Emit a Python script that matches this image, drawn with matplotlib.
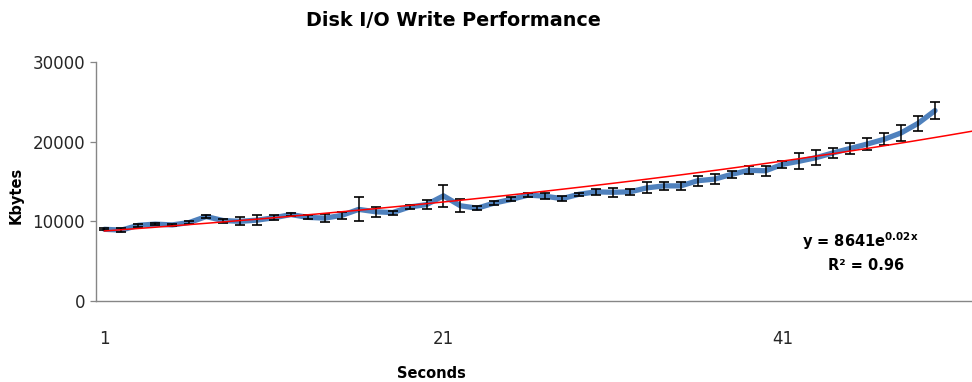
import numpy as np
import matplotlib
matplotlib.use("Agg")
import matplotlib.pyplot as plt

plt.rcParams['font.family'] = ['DejaVu Sans']

# ---- data ----
seconds = list(range(1, 51))
kbytes = [9000, 8900, 9500, 9650, 9550, 9850, 10600, 10100, 10000, 10150,
          10450, 10850, 10500, 10400, 10750, 11500, 11200, 11100, 11800, 12100,
          13200, 11950, 11650, 12300, 12750, 13300, 13150, 12850, 13400, 13700,
          13650, 13700, 14200, 14450, 14450, 15100, 15300, 15900, 16400, 16350,
          17150, 17550, 18000, 18600, 19150, 19700, 20300, 21100, 22300, 23900]
errors = [150, 250, 150, 150, 150, 150, 150, 250, 500, 650,
          300, 200, 250, 480, 460, 1500, 650, 250, 310, 580,
          1420, 840, 250, 310, 250, 250, 350, 300, 200, 400,
          560, 420, 690, 520, 520, 630, 630, 420, 520, 600,
          420, 1000, 900, 630, 700, 730, 730, 1040, 940, 1040]
trend_a = 8641
trend_k = 0.0173
yticks = [0, 10000, 20000, 30000]
xticks = [1, 21, 41]
title = "Disk I/O Write Performance"
xlabel = "Seconds"
ylabel = "Kbytes"

W, H = 972, 382
fig = plt.figure(figsize=(W / 100, H / 100), dpi=100)
ax = fig.add_axes([96 / W, (H - 301) / H, 881.4 / W, 239 / H])

ax.plot(seconds, kbytes, color='#4F81BD', lw=3.8, solid_joinstyle='round',
        solid_capstyle='round', zorder=2)
ax.errorbar(seconds, kbytes, yerr=errors, fmt='none', ecolor='black',
            elinewidth=1.1, capsize=3.6, capthick=1.2, zorder=3)
xt = np.linspace(1, 52.5, 200)
ax.plot(xt, trend_a * np.exp(trend_k * xt), color='#FF0000', lw=1.1, zorder=4)

ax.set_xlim(0.5, 52.5)
ax.set_ylim(0, 30000)
ax.set_yticks(yticks)
ax.set_yticklabels([str(v) for v in yticks])
ax.set_xticks(xticks)
ax.set_xticklabels([str(v) for v in xticks])

for s in ['top', 'right']:
    ax.spines[s].set_visible(False)
for s in ['left', 'bottom']:
    ax.spines[s].set_color('#868686')
    ax.spines[s].set_linewidth(1.0)

ax.tick_params(axis='y', direction='out', length=4.3, width=0.9, color='#868686',
               labelsize=12, labelcolor='#262626', pad=3.6)
ax.tick_params(axis='x', length=0, labelsize=12, labelcolor='#262626', pad=21)

fig.text(453 / W, 1 - 20 / H, title, ha='center', va='center',
         fontsize=13.8, fontweight='bold', color='black')
fig.text(431 / W, 1 - 373 / H, xlabel, ha='center', va='center',
         fontsize=10.5, fontweight='bold', color='black')
fig.text(16 / W, 1 - 195 / H, ylabel, ha='center', va='center', rotation=90,
         fontsize=10.5, fontweight='bold', color='black')

fig.text(860 / W, 1 - 241 / H, r"y = 8641e$^{\mathregular{0.02x}}$", ha='center',
         va='center', fontsize=10.5, fontweight='bold', color='black')
fig.text(866 / W, 1 - 265 / H, "R² = 0.96", ha='center', va='center',
         fontsize=10.5, fontweight='bold', color='black')

fig.savefig("out.png", dpi=100)
